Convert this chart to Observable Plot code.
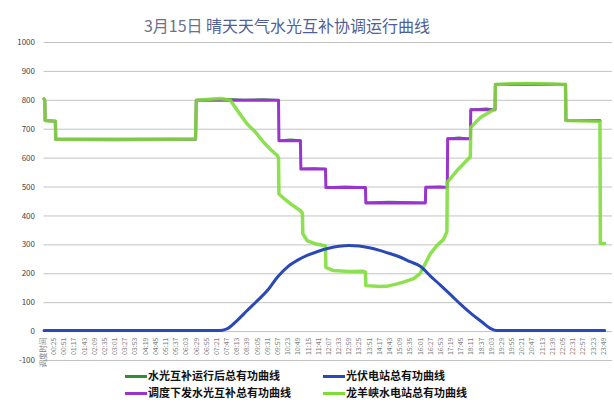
<!DOCTYPE html>
<html>
<head>
<meta charset="utf-8">
<script src="https://cdn.jsdelivr.net/npm/d3@7"></script>
<script src="https://cdn.jsdelivr.net/npm/@observablehq/plot@0.6"></script>
<style>
  body { margin: 0; background: #fff; font-family: "Noto Sans CJK SC", "Noto Sans", sans-serif; }
  #wrap { position: relative; width: 614px; height: 409px; overflow: hidden; }
  #chart { position: absolute; left: 0; top: 0; }
  #title { position: absolute; left: 0; width: 574px; top: 17px; line-height: 16px; text-align: center; font-size: 16px; color: #4f5f98; white-space: nowrap; }
  #title .date { color: #6a7288; }
  .lg { position: absolute; height: 14px; line-height: 14px; font-size: 11px; font-weight: bold; color: #111; white-space: nowrap; }
  .lg i { display: inline-block; width: 22px; height: 3px; margin-right: 1px; vertical-align: middle; position: relative; top: -1px; }
</style>
</head>
<body>
<div id="wrap">
  <div id="chart"></div>
  <div id="title"><span class="date">3月15日</span> 晴天天气水光互补协调运行曲线</div>
  <div id="legend"></div>
</div>
<script>
// Time-axis labels (every 26 minutes) and value axis ticks
const axisHeader = "调度时间";
const timeLabels = [
  "00:25","00:51","01:17","01:43","02:09","02:35","03:01","03:27","03:53","04:19",
  "04:45","05:11","05:37","06:03","06:29","06:55","07:21","07:47","08:13","08:39",
  "09:05","09:31","09:57","10:23","10:49","11:15","11:41","12:07","12:33","12:59",
  "13:25","13:51","14:17","14:43","15:09","15:35","16:01","16:27","16:53","17:19",
  "17:45","18:11","18:37","19:03","19:29","19:55","20:21","20:47","21:13","21:39",
  "22:05","22:31","22:57","23:23","23:49"
];
const yTicks = [-100, 0, 100, 200, 300, 400, 500, 600, 700, 800, 900, 1000];

// 调度下发水光互补总有功 (MW)
const scheduleTimes = ["00:00","00:02","00:03","00:29","00:30","06:27","06:29","09:59","10:00","10:55","10:56","11:59","12:00","13:41","13:42","16:14","16:15","17:10","17:11","18:09","18:10","19:12","19:13","22:12","22:13","23:40"];
const scheduleValues = [805, 800, 730, 728, 665, 665, 800, 800, 660, 660, 562, 562, 498, 498, 445, 445, 499, 499, 667, 667, 767, 767, 855, 855, 730, 730];

// 水光互补运行后总有功 (MW)
const totalTimes = ["00:00","00:02","00:03","00:29","00:30","06:27","06:29","07:50","08:30","09:20","09:59","10:00","10:30","10:55","10:56","11:30","11:59","12:00","12:50","13:41","13:42","14:40","15:40","16:14","16:15","16:50","17:10","17:11","17:40","18:09","18:10","18:50","19:12","19:13","20:40","22:12","22:13","23:40"];
const totalValues = [805, 800, 730, 728, 665, 665, 800, 805, 803, 804, 802, 662, 665, 663, 564, 566, 563, 500, 503, 500, 447, 450, 448, 446, 501, 503, 500, 669, 672, 668, 769, 772, 768, 857, 859, 857, 731, 730];

// 光伏电站总有功 (MW)
const pvTimes = ["00:00","07:21","07:36","07:47","08:13","08:39","09:05","09:31","09:57","10:23","10:49","11:15","11:41","12:07","12:33","12:59","13:25","13:51","14:17","14:43","15:09","15:35","16:01","16:27","16:53","17:19","17:45","18:11","18:37","19:03","19:15","23:52"];
const pvValues = [4, 4, 5, 9, 38, 73, 107, 143, 190, 225, 248, 265, 278, 288, 295, 298, 296, 290, 281, 270, 258, 242, 226, 192, 160, 127, 93, 62, 35, 9, 4, 4];

// 龙羊峡水电站总有功 (MW)
const hydroTimes = ["00:00","00:02","00:03","00:29","00:30","03:00","06:27","06:29","07:30","07:56","08:17","08:39","09:00","09:21","09:40","09:56","09:59","10:00","10:15","10:30","10:55","11:00","11:01","11:12","11:30","11:54","11:59","12:00","12:19","13:00","13:36","13:41","13:42","14:19","14:40","15:02","15:20","15:44","16:00","16:09","16:27","16:45","17:00","17:09","17:10","17:35","18:04","18:09","18:10","18:35","19:05","19:12","19:13","20:30","22:12","22:13","23:40","23:41","23:52"];
const hydroValues = [805, 800, 730, 728, 665, 664, 666, 800, 806, 800, 759, 718, 690, 655, 628, 609, 600, 476, 458, 442, 418, 410, 339, 315, 305, 298, 296, 222, 211, 208, 209, 205, 159, 156, 158, 165, 172, 183, 200, 222, 270, 300, 318, 345, 517, 557, 598, 605, 707, 741, 765, 770, 855, 858, 855, 730, 728, 305, 305];

const toMin = s => { const [h, m] = s.split(":").map(Number); return h * 60 + m; };
const series = (times, values) => times.map((t, i) => ({ t: toMin(t), v: values[i] }));

const schedule = series(scheduleTimes, scheduleValues);
const total = series(totalTimes, totalValues);
const pv = series(pvTimes, pvValues);
const hydro = series(hydroTimes, hydroValues);
const ticks = [{ t: 0, label: axisHeader, size: 7.5 }].concat(timeLabels.map(l => ({ t: toMin(l), label: l, size: 7 })));

const colors = { total: "#2f8f34", schedule: "#9a34cf", pv: "#2a48b6", hydro: "#7ddc38" };

const chart = Plot.plot({
  width: 614,
  height: 409,
  marginLeft: 43.5,
  marginRight: 2,
  marginTop: 42,
  marginBottom: 49,
  x: { type: "linear", domain: [0, 1452], axis: null },
  y: { domain: [-100, 1000], axis: null },
  style: { background: "transparent", fontFamily: "'Noto Sans CJK SC', 'Noto Sans', sans-serif" },
  marks: [
    Plot.ruleY(yTicks, { stroke: "#c3c3c3", strokeWidth: 1 }),
    Plot.text(yTicks, { x: 0, y: d => d, text: d => String(d), textAnchor: "end", dx: -9, fontSize: 8, fill: "#444" }),
    Plot.text(ticks, { x: "t", y: 0, text: "label", rotate: -90, textAnchor: "end", dy: 6, fontSize: "size", fill: "#808080" }),
    Plot.line(total, { x: "t", y: "v", stroke: colors.total, strokeWidth: 1.6 }),
    Plot.line(schedule, { x: "t", y: "v", stroke: colors.schedule, strokeWidth: 3 }),
    Plot.line(hydro, { x: "t", y: "v", stroke: colors.hydro, strokeWidth: 3.5, strokeOpacity: 0.88, strokeLinejoin: "round" }),
    Plot.line(pv, { x: "t", y: "v", stroke: colors.pv, strokeWidth: 3, curve: "monotone-x" })
  ]
});
document.getElementById("chart").appendChild(chart);

// Legend in two columns below the plot
const legendItems = [
  { name: "水光互补运行后总有功曲线", color: colors.total, left: 125, top: 368 },
  { name: "调度下发水光互补总有功曲线", color: colors.schedule, left: 125, top: 385 },
  { name: "光伏电站总有功曲线", color: colors.pv, left: 323, top: 368 },
  { name: "龙羊峡水电站总有功曲线", color: colors.hydro, left: 323, top: 385 }
];
const legend = document.getElementById("legend");
for (const item of legendItems) {
  const el = document.createElement("div");
  el.className = "lg";
  el.style.left = item.left + "px";
  el.style.top = item.top + "px";
  const sw = document.createElement("i");
  sw.style.background = item.color;
  el.appendChild(sw);
  el.appendChild(document.createTextNode(item.name));
  legend.appendChild(el);
}
</script>
</body>
</html>
